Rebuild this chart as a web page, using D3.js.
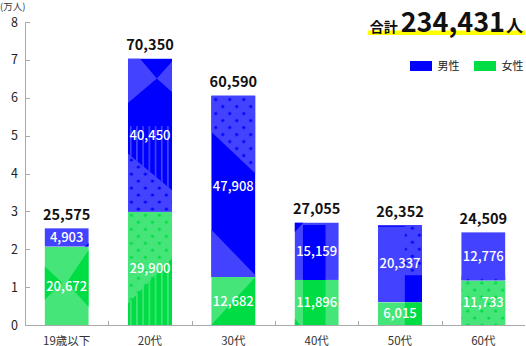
<!DOCTYPE html>
<html lang="ja">
<head>
<meta charset="utf-8">
<script src="https://cdn.jsdelivr.net/npm/d3@7"></script>
<style>
  html, body { margin: 0; padding: 0; background: #fff; }
  svg { display: block; font-family: "Noto Sans CJK JP", "Noto Sans", sans-serif; }
</style>
</head>
<body>
<svg id="chart" width="526" height="346"></svg>
<script>
// Population by age group (people)
const categories = ["19歳以下", "20代", "30代", "40代", "50代", "60代"];
const maleValues = [4903, 40450, 47908, 15159, 20337, 12776];
const femaleValues = [20672, 29900, 12682, 11896, 6015, 11733];
const totalValues = [25575, 70350, 60590, 27055, 26352, 24509];
const seriesNames = ["男性", "女性"];
const yTickValues = [0, 1, 2, 3, 4, 5, 6, 7, 8]; // in 万人
const grandTotal = 234431;

// Colours: each series has a light base tone and a dark accent tone
const palette = {
  male:   { light: "#4343ff", dark: "#0000ff" },
  female: { light: "#45e57a", dark: "#00dd44" }
};

// Decorative overlays inside each bar segment, in unit coordinates of the segment (u across, v down)
const decor = {
  male: [
    [{ kind: "poly", tone: "dark", pts: [[0.9, 1], [1, 0.8], [1, 1]] }],
    [
      { kind: "poly", tone: "light", pts: [[0, 0], [0.27, 0], [0.655, 0.13], [0, 0.29]] },
      { kind: "poly", tone: "light", pts: [[1, 0.02], [0.655, 0.13], [1, 0.22]] },
      { kind: "stripes", pts: [[0, 0.44], [1, 0.44], [1, 0.86], [0, 0.62]] },
      { kind: "dots", off: [3.5, 3.5], pts: [[0, 0.62], [1, 0.86], [1, 1], [0, 1]] }
    ],
    [
      { kind: "dots", off: [4.5, 4], pts: [[0, 0], [1, 0], [1, 0.43], [0, 0.2]] },
      { kind: "poly", tone: "light", pts: [[0, 0.74], [1, 0.99], [1, 1], [0, 1]] }
    ],
    [
      { kind: "poly", tone: "dark", pts: [[0.19, 0.044], [0.7, 0.044], [0.7, 1], [0.19, 1]] },
      { kind: "poly", tone: "dark", pts: [[0, 0], [0.2, 0], [0, 0.17]] }
    ],
    [
      { kind: "poly", tone: "dark", pts: [[0, 0], [1, 0], [1, 0.02], [0, 0.02]] },
      { kind: "dots", off: [6.5, 3], pts: [[0.61, 0], [1, 0], [1, 0.65], [0.61, 0.65]] },
      { kind: "poly", tone: "dark", pts: [[0.61, 0.65], [1, 0.65], [1, 1], [0.61, 1]] }
    ],
    [
      { kind: "dots", off: [6.5, "bottom"], pts: [[0, 0.9], [1, 0.9], [1, 1], [0, 1]] }
    ]
  ],
  female: [
    [
      { kind: "poly", tone: "dark", pts: [[1, 0.04], [0.5, 0.46], [1, 0.77]] },
      { kind: "poly", tone: "dark", pts: [[0, 0.25], [0.4, 0.46], [0, 0.68]] }
    ],
    [
      { kind: "dots", off: [3.5, 3.5], pts: [[0, 0], [1, 0], [1, 1], [0, 1]] },
      { kind: "stripes", pts: [[0, 0.81], [1, 0.41], [1, 1], [0, 1]] }
    ],
    [{ kind: "poly", tone: "dark", pts: [[1, 0], [1, 1], [0, 1]] }],
    [
      { kind: "poly", tone: "dark", pts: [[0.19, 0], [0.7, 0], [0.7, 1], [0.19, 1]] },
      { kind: "poly", tone: "dark", pts: [[0, 0.85], [0.12, 1], [0, 1]] }
    ],
    [{ kind: "poly", tone: "dark", pts: [[0.61, 0], [1, 0], [1, 1], [0.61, 1]] }],
    [{ kind: "dots", off: [6.5, 2.5], pts: [[0, 0], [1, 0], [1, 1], [0, 1]] }]
  ]
};

const svg = d3.select("#chart");
const defs = svg.append("defs");

const x = d3.scaleBand()
  .domain(categories)
  .range([25, 525])
  .paddingInner(0.47)
  .paddingOuter(0.235);

const y = d3.scaleLinear()
  .domain([0, 80000])
  .range([325, 22]);

const fmt = d3.format(",");

// ---- axes ----
const axisColor = "#aaaaaa";

// vertical axis
const yAxis = svg.append("g").attr("transform", "translate(25.5,0)");
yAxis.append("line")
  .attr("x1", 0).attr("x2", 0)
  .attr("y1", y(80000)).attr("y2", y(0))
  .attr("stroke", axisColor);
yAxis.selectAll("line.tick").data(yTickValues).join("line")
  .attr("class", "tick")
  .attr("x1", 0).attr("x2", 4.5)
  .attr("y1", d => Math.round(y(d * 10000)) + 0.5)
  .attr("y2", d => Math.round(y(d * 10000)) + 0.5)
  .attr("stroke", axisColor);
yAxis.selectAll("text").data(yTickValues).join("text")
  .attr("x", -7.5)
  .attr("y", d => y(d * 10000))
  .attr("dy", "0.36em")
  .attr("text-anchor", "end")
  .attr("font-size", 12.5)
  .attr("fill", "#222")
  .text(d => d);

svg.append("text")
  .attr("x", 0).attr("y", 9.5)
  .attr("font-size", 9.5)
  .attr("fill", "#333")
  .text("(万人)");

// horizontal axis
const xAxis = svg.append("g").attr("transform", `translate(0,${y(0) + 0.5})`);
xAxis.append("line")
  .attr("x1", 25).attr("x2", 525)
  .attr("stroke", axisColor);
const boundaries = categories.slice(1).map(c => x(c) - x.step() * x.paddingInner() / 2);
xAxis.selectAll("line.tick").data(boundaries).join("line")
  .attr("class", "tick")
  .attr("x1", d => Math.round(d) + 0.5).attr("x2", d => Math.round(d) + 0.5)
  .attr("y1", -4.5).attr("y2", 0)
  .attr("stroke", axisColor);
xAxis.selectAll("text").data(categories).join("text")
  .attr("x", d => x(d) + x.bandwidth() / 2)
  .attr("y", 19)
  .attr("text-anchor", "middle")
  .attr("font-size", 11.5)
  .attr("fill", "#333")
  .text(d => d);

// ---- stacked bars ----
const rows = categories.map((c, i) => ({ category: c, female: femaleValues[i], male: maleValues[i] }));
const stack = d3.stack().keys(["female", "male"]);
const layers = stack(rows);

let patternId = 0;
function dotPattern(series, ox, oy) {
  const id = `dots-${patternId++}`;
  const p = defs.append("pattern")
    .attr("id", id)
    .attr("patternUnits", "userSpaceOnUse")
    .attr("width", 14).attr("height", 14)
    .attr("patternTransform", `translate(${ox},${oy})`);
  p.append("rect").attr("width", 14).attr("height", 14).attr("fill", palette[series].light);
  [[0, 0], [14, 0], [0, 14], [14, 14], [7, 7]].forEach(([cx, cy]) => {
    p.append("circle").attr("cx", cx).attr("cy", cy).attr("r", 1.6).attr("fill", palette[series].dark);
  });
  return id;
}
function stripePattern(series, ox) {
  const id = `stripes-${patternId++}`;
  const p = defs.append("pattern")
    .attr("id", id)
    .attr("patternUnits", "userSpaceOnUse")
    .attr("width", 6.2).attr("height", 10)
    .attr("patternTransform", `translate(${ox},0)`);
  p.append("rect").attr("width", 6.2).attr("height", 10).attr("fill", palette[series].dark);
  p.append("rect").attr("x", 0).attr("width", 1.6).attr("height", 10).attr("fill", palette[series].light);
  return id;
}

const barsG = svg.append("g");
layers.forEach(layer => {
  const series = layer.key;
  layer.forEach((d, i) => {
    const x0 = x(categories[i]);
    const w = x.bandwidth();
    const yTop = y(d[1]);
    const yBot = y(d[0]);
    const h = yBot - yTop;
    const items = decor[series][i];
    const baseTone = series === "male" && (i === 1 || i === 2) ? "dark" : "light";

    const clipId = `clip-${series}-${i}`;
    defs.append("clipPath").attr("id", clipId)
      .append("rect").attr("x", x0).attr("y", yTop).attr("width", w).attr("height", h);

    const g = barsG.append("g").attr("clip-path", `url(#${clipId})`);
    g.append("rect")
      .attr("x", x0).attr("y", yTop).attr("width", w).attr("height", h)
      .attr("fill", palette[series][baseTone]);

    const toPts = pts => pts.map(([u, v]) => [x0 + u * w, yTop + v * h].join(",")).join(" ");
    items.forEach(item => {
      let fill;
      if (item.kind === "poly") fill = palette[series][item.tone];
      else if (item.kind === "dots") {
        const oy = item.off[1] === "bottom" ? yBot : yTop + item.off[1];
        fill = `url(#${dotPattern(series, x0 + item.off[0], oy)})`;
      } else if (item.kind === "stripes") {
        fill = `url(#${stripePattern(series, x0 + 2)})`;
      }
      g.append("polygon").attr("points", toPts(item.pts)).attr("fill", fill);
    });

    // value label inside the segment
    barsG.append("text")
      .attr("x", x0 + w / 2)
      .attr("y", (yTop + yBot) / 2)
      .attr("dy", "0.36em")
      .attr("text-anchor", "middle")
      .attr("font-size", 13)
      .attr("font-weight", 500)
      .attr("fill", "#fff")
      .text(fmt(d.data[series]));
  });
});

// totals above each bar
svg.append("g").selectAll("text").data(categories).join("text")
  .attr("x", d => x(d) + x.bandwidth() / 2)
  .attr("y", (d, i) => y(totalValues[i]) - 8.5)
  .attr("text-anchor", "middle")
  .attr("font-size", 14.5)
  .attr("font-weight", 700)
  .attr("fill", "#111")
  .text((d, i) => fmt(totalValues[i]));

// ---- grand total heading ----
const head = svg.append("g");
const highlight = head.append("rect").attr("fill", "#ffff00");
const headText = head.append("text")
  .attr("x", 523).attr("y", 32)
  .attr("text-anchor", "end")
  .attr("fill", "#111")
  .attr("font-weight", 700);
headText.append("tspan").attr("font-size", 14).text("合計");
headText.append("tspan").attr("font-size", 27).attr("dx", 3).text(fmt(grandTotal));
headText.append("tspan").attr("font-size", 17).attr("dx", 1).text("人");
const bb = headText.node().getBBox();
highlight.attr("x", bb.x - 2).attr("y", 30.5).attr("width", bb.width + 4).attr("height", 4.5);

// ---- legend ----
const legendItems = [
  { name: seriesNames[0], color: palette.male.dark, x: 410 },
  { name: seriesNames[1], color: palette.female.dark, x: 474 }
];
const legend = svg.append("g").selectAll("g").data(legendItems).join("g")
  .attr("transform", d => `translate(${d.x},61)`);
legend.append("rect").attr("width", 22).attr("height", 10).attr("fill", d => d.color);
legend.append("text")
  .attr("x", 27.5).attr("y", 5)
  .attr("dy", "0.36em")
  .attr("font-size", 11)
  .attr("fill", "#222")
  .text(d => d.name);
</script>
</body>
</html>
